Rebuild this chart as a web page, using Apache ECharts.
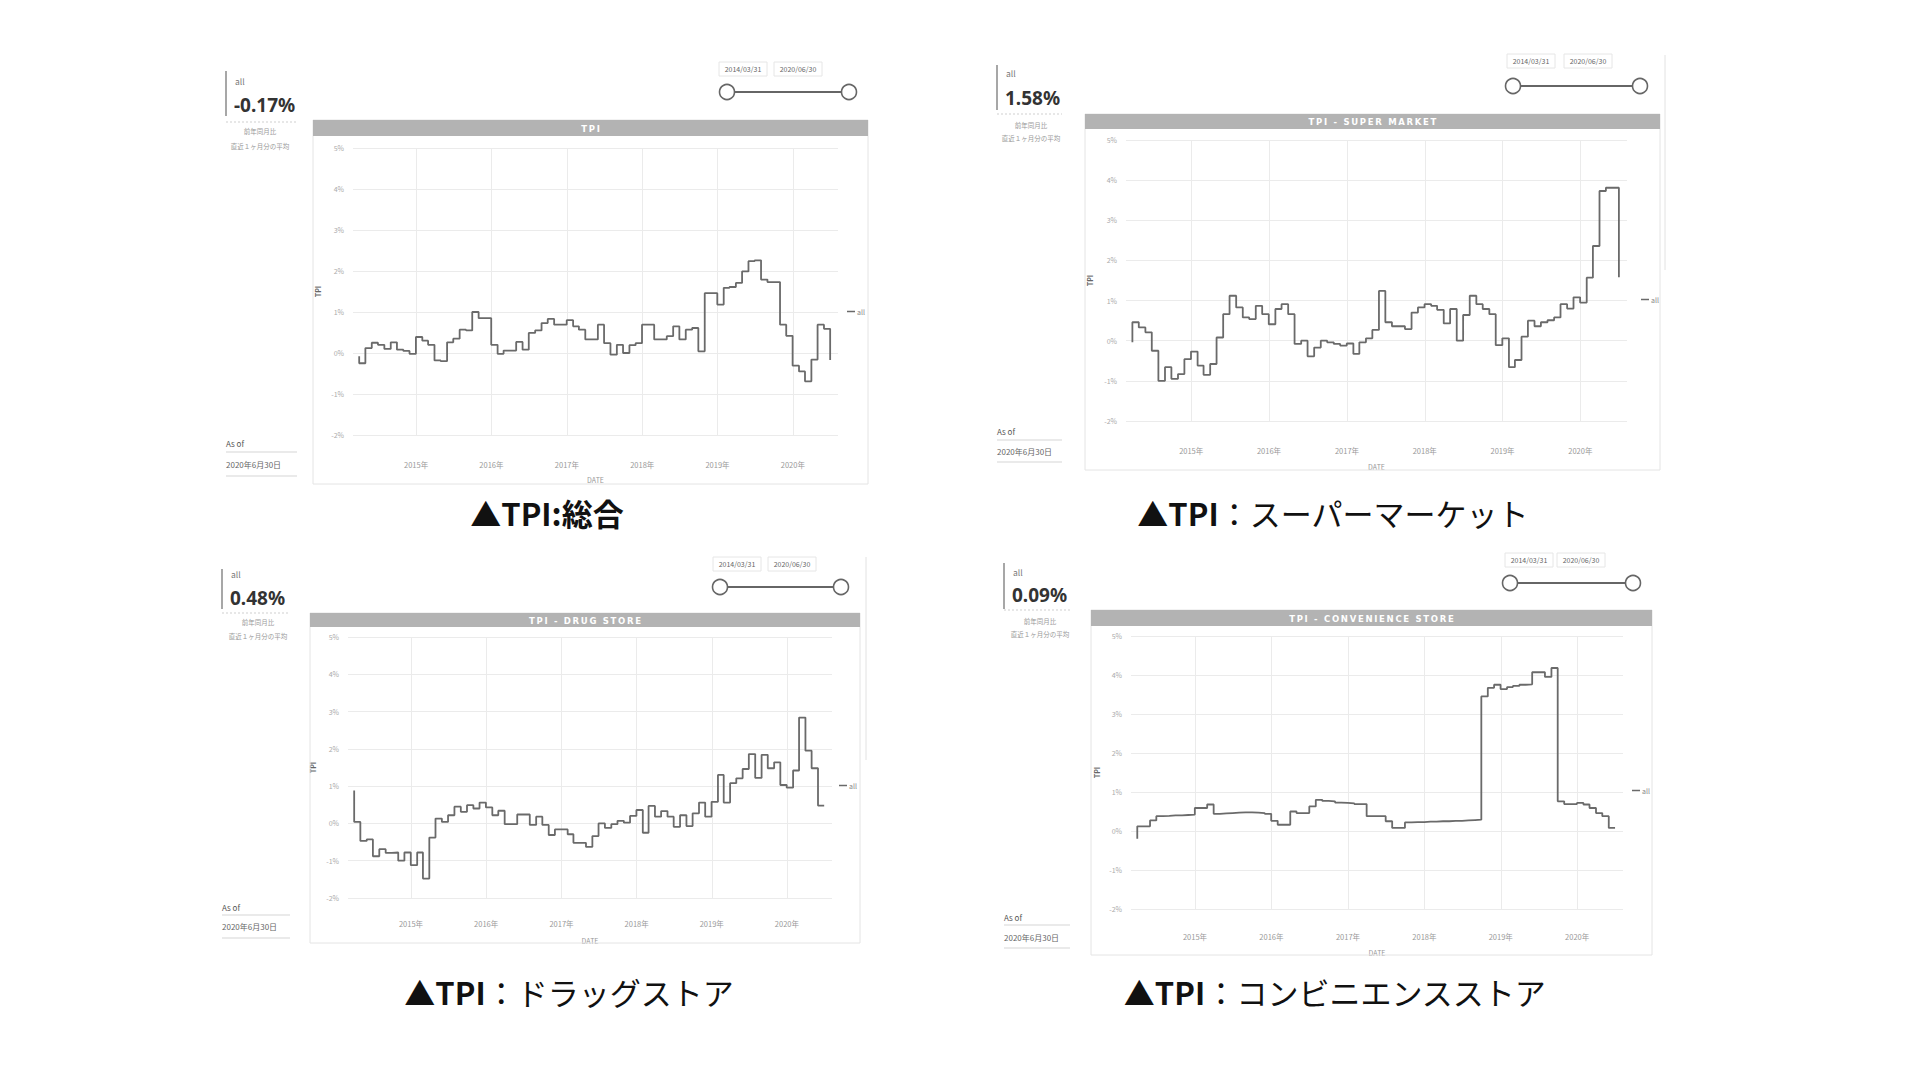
<!DOCTYPE html>
<html><head><meta charset="utf-8">
<script src="https://cdn.jsdelivr.net/npm/echarts@6/dist/echarts.min.js"></script>
<style>html,body{margin:0;padding:0;background:#fff}#c{width:1920px;height:1080px}</style>
</head><body><div id="c"></div>
<script>
// ---------- data ----------
const dates = [
 '2014-03-31','2014-04-30','2014-05-31','2014-06-30','2014-07-31','2014-08-31','2014-09-30','2014-10-31','2014-11-30','2014-12-31',
 '2015-01-31','2015-02-28','2015-03-31','2015-04-30','2015-05-31','2015-06-30','2015-07-31','2015-08-31','2015-09-30','2015-10-31','2015-11-30','2015-12-31',
 '2016-01-31','2016-02-29','2016-03-31','2016-04-30','2016-05-31','2016-06-30','2016-07-31','2016-08-31','2016-09-30','2016-10-31','2016-11-30','2016-12-31',
 '2017-01-31','2017-02-28','2017-03-31','2017-04-30','2017-05-31','2017-06-30','2017-07-31','2017-08-31','2017-09-30','2017-10-31','2017-11-30','2017-12-31',
 '2018-01-31','2018-02-28','2018-03-31','2018-04-30','2018-05-31','2018-06-30','2018-07-31','2018-08-31','2018-09-30','2018-10-31','2018-11-30','2018-12-31',
 '2019-01-31','2019-02-28','2019-03-31','2019-04-30','2019-05-31','2019-06-30','2019-07-31','2019-08-31','2019-09-30','2019-10-31','2019-11-30','2019-12-31',
 '2020-01-31','2020-02-29','2020-03-31','2020-04-30','2020-05-31','2020-06-30'
];
const totalStart = -0.08;
const totalValues = [
 -0.25,0.12,0.25,0.2,0.1,0.26,0.08,0.05,-0.02,0.39,
 0.3,0.2,-0.18,-0.2,0.26,0.35,0.57,0.55,1.0,0.85,
 0.85,0.2,-0.02,0.06,0.06,0.27,0.08,0.49,0.55,0.73,
 0.83,0.69,0.69,0.8,0.65,0.57,0.33,0.33,0.69,0.24,
 -0.04,0.2,0,0.19,0.24,0.69,0.69,0.33,0.33,0.41,
 0.65,0.33,0.57,0.61,0.04,1.46,1.46,1.18,1.59,1.61,
 1.71,1.99,2.24,2.26,1.79,1.73,1.73,0.69,0.42,-0.31,
 -0.45,-0.69,-0.16,0.69,0.59,-0.17
];
const superStart = -0.04;
const superValues = [
 0.46,0.33,0.21,-0.25,-1.0,-0.66,-0.95,-0.83,-0.46,-0.27,
 -0.62,-0.85,-0.58,0.08,0.66,1.12,0.83,0.58,0.54,0.87,
 0.66,0.41,0.79,0.91,0.66,-0.08,0,-0.39,-0.17,0,
 -0.04,-0.08,-0.12,-0.07,-0.33,-0.04,0.06,0.27,1.24,0.46,
 0.36,0.36,0.29,0.7,0.83,0.91,0.87,0.77,0.43,0.79,
 0,0.64,1.12,0.91,0.79,0.66,-0.11,0.06,-0.66,-0.48,
 0.1,0.5,0.36,0.46,0.51,0.58,0.91,0.8,1.08,0.95,
 1.57,2.36,3.73,3.81,3.81,1.58
];
const drugStart = 0.88;
const drugValues = [
 0.04,-0.47,-0.43,-0.88,-0.69,-0.79,-0.78,-1.0,-0.78,-1.12,
 -0.78,-1.48,-0.38,0.13,0.04,0.22,0.45,0.31,0.49,0.4,
 0.56,0.43,0.22,0.34,-0.02,-0.02,0.24,0.24,-0.04,0.18,
 -0.04,-0.31,-0.16,-0.16,-0.29,-0.52,-0.52,-0.63,-0.34,0,
 -0.12,-0.02,0.07,0.02,0.2,0.36,-0.25,0.47,0.18,0.33,
 0.18,-0.09,0.22,-0.07,0.27,0.56,0.18,0.58,1.3,0.56,
 1.08,1.21,1.46,1.86,1.22,1.84,1.48,1.64,1.03,0.96,
 1.42,2.84,1.95,1.48,0.48,0.48
];
const convStart = -0.2;
const convValues = [
 0.12,0.12,0.27,0.38,0.39,0.4,0.4,0.41,0.42,0.59,
 0.59,0.68,0.44,0.45,0.46,0.47,0.48,0.48,0.47,0.46,
 0.44,0.26,0.16,0.16,0.5,0.46,0.46,0.63,0.8,0.77,
 0.76,0.73,0.72,0.71,0.69,0.69,0.38,0.38,0.38,0.25,
 0.08,0.08,0.22,0.23,0.23,0.24,0.24,0.25,0.25,0.26,
 0.26,0.27,0.28,0.29,3.45,3.67,3.75,3.64,3.69,3.72,
 3.75,3.76,4.07,4.07,3.95,4.18,0.76,0.69,0.69,0.72,
 0.68,0.59,0.46,0.38,0.08,0.09
];
const yMin = -2, yMax = 5, yStep = 1;
const xMin = '2014-03-01', xMax = '2020-08-07';
const panelTitles = ['TPI', 'TPI - SUPER MARKET', 'TPI - DRUG STORE', 'TPI - CONVENIENCE STORE'];
const kpiValues = ['-0.17%', '1.58%', '0.48%', '0.09%'];
const kpiLabel = 'all';
const kpiNotes = ['前年同月比', '直近１ヶ月分の平均'];
const asOfLabel = 'As of';
const asOfDate = '2020年6月30日';
const sliderDates = ['2014/03/31', '2020/06/30'];
const captionHead = ['▲TPI:総合', '▲TPI', '▲TPI', '▲TPI'];
const captionTail = ['', '：スーパーマーケット', '：ドラッグストア', '：コンビニエンスストア'];
const seriesSets = [[totalStart,totalValues],[superStart,superValues],[drugStart,drugValues],[convStart,convValues]];

// ---------- layout ----------
const L = [
 {g:[353,838,148,435], xm:26, ng:41, yng:32, leg:[847,308],
  kb:[226,71,116], allY:81, valY:105, sepY:122, sepX1:297, small:[260,131,146],
  sb:[[743,69],[798,69]], sc:[[727,92],[849,92]], bar:[313,868,120,136], pb:484,
  asY:443, l1:452, dY:464, l2:476, cap:[547,512], rl:null},
 {g:[1126,1627,140,421], xm:26, ng:42, yng:33, leg:[1641,296],
  kb:[997,65,110], allY:73, valY:98, sepY:114, sepX1:1062, small:[1031,125,138],
  sb:[[1531,61],[1588,61]], sc:[[1513,86],[1640,86]], bar:[1085,1660,114,129], pb:470,
  asY:431, l1:440, dY:451, l2:462, cap:[1333,512], rl:[1665,55,270]},
 {g:[348,832,637,898], xm:22, ng:39, yng:32, leg:[839,782],
  kb:[222,569,609], allY:574, valY:598, sepY:613, sepX1:290, small:[258,622,636],
  sb:[[737,564],[792,564]], sc:[[720,587],[841,587]], bar:[310,860,613,627], pb:943,
  asY:907, l1:915, dY:926, l2:938, cap:[569,991], rl:[866,557,760]},
 {g:[1131,1623,636,909], xm:24, ng:40, yng:31, leg:[1632,787],
  kb:[1004,563,609], allY:572, valY:595, sepY:610, sepX1:1070, small:[1040,621,634],
  sb:[[1529,560],[1581,560]], sc:[[1510,583],[1633,583]], bar:[1091,1652,610,626], pb:955,
  asY:917, l1:925, dY:937, l2:948, cap:[1335,991], rl:null}
];
const FONT = '"Noto Sans CJK JP","Noto Sans",sans-serif';
const LINE_COLOR = '#6a6a6a';
const GRID_COLOR = '#ebebeb';

function txt(x,y,text,size,color,extra){
  return {type:'text', silent:true, z:10, style:Object.assign({x:x,y:y,text:text,fontSize:size,fontFamily:FONT,fill:color,align:'left',verticalAlign:'middle'}, extra||{})};
}
function ln(x1,y1,x2,y2,color,w,dash){
  return {type:'line', silent:true, z:10, shape:{x1:x1,y1:y1,x2:x2,y2:y2}, style:{stroke:color,lineWidth:w,lineDash:dash||null}};
}
function rc(x,y,w,h,style){ return {type:'rect', silent:true, z:1, shape:{x:x,y:y,width:w,height:h}, style:style}; }

const graphics = [];
const grids = [], xAxes = [], yAxes = [], series = [], legends = [];
L.forEach(function(p,i){
  const gl=p.g[0], gr=p.g[1], gt=p.g[2], gb=p.g[3];
  grids.push({left:gl, right:1920-gr, top:gt, bottom:1080-gb, containLabel:false});
  xAxes.push({type:'time', gridIndex:i, min:xMin, max:xMax,
    minInterval:365*86400000, maxInterval:366*86400000,
    name:'DATE', nameLocation:'middle', nameGap:p.ng, nameTextStyle:{fontSize:7,color:'#999',fontFamily:FONT},
    axisLine:{show:false},
    axisTick:{show:true, length:15, inside:false, lineStyle:{color:GRID_COLOR, width:1}},
    axisLabel:{fontSize:7.5,color:'#999',fontFamily:FONT,margin:p.xm,showMinLabel:false,showMaxLabel:false,
      formatter:function(v){ return new Date(v).getFullYear() + '年'; }},
    splitLine:{show:true, showMinLine:false, showMaxLine:false, lineStyle:{color:GRID_COLOR, width:1}}});
  yAxes.push({type:'value', gridIndex:i, min:yMin, max:yMax, interval:yStep,
    name:'TPI', nameLocation:'middle', nameRotate:90, nameGap:p.yng,
    nameTextStyle:{fontSize:7,color:'#666',fontWeight:'bold',fontFamily:FONT},
    axisLine:{show:false}, axisTick:{show:false},
    axisLabel:{fontSize:7,color:'#aaa',fontFamily:FONT,margin:9,formatter:'{value}%'},
    splitLine:{show:true, lineStyle:{color:GRID_COLOR, width:1}}});
  const s = seriesSets[i];
  const d = [[dates[0], s[0]]];
  s[1].forEach(function(v,k){ d.push([dates[k], v]); });
  series.push({name:'all', type:'line', xAxisIndex:i, yAxisIndex:i, step:'end', data:d,
    showSymbol:false, symbol:'none', lineStyle:{color:LINE_COLOR, width:1.8}, itemStyle:{color:LINE_COLOR}, animation:false});
  legends.push({data:['all'], left:p.leg[0], top:p.leg[1], icon:'rect', itemWidth:8, itemHeight:1.5, itemGap:2,
    textStyle:{fontSize:7,color:'#888',fontFamily:FONT,padding:[0,0,0,-3]}, selectedMode:false, padding:0});

  // panel
  graphics.push(rc(p.bar[0], p.bar[2], p.bar[1]-p.bar[0], p.pb-p.bar[2], {fill:'none', stroke:'#e4e4e4', lineWidth:1}));
  graphics.push(rc(p.bar[0], p.bar[2], p.bar[1]-p.bar[0], p.bar[3]-p.bar[2], {fill:'#b3b3b3'}));
  graphics.push(txt((p.bar[0]+p.bar[1])/2, (p.bar[2]+p.bar[3])/2+0.5, panelTitles[i].split('').join('\u2009'), 8.5, '#ffffff',
    {align:'center', fontWeight:'bold', fontFamily:'"DejaVu Sans",sans-serif'}));
  // KPI
  const kx = p.kb[0];
  graphics.push(ln(kx, p.kb[1], kx, p.kb[2], '#8a8a8a', 1.5));
  graphics.push(txt(kx+9, p.allY, kpiLabel, 8.5, '#777'));
  graphics.push(txt(kx+8, p.valY, kpiValues[i], 19, '#333', {fontWeight:'bold', fontFamily:'"Noto Sans","Open Sans",sans-serif'}));
  graphics.push(ln(kx, p.sepY, p.sepX1, p.sepY, '#cfcfcf', 1, [2,2]));
  graphics.push(txt(p.small[0], p.small[1], kpiNotes[0], 6.5, '#999', {align:'center'}));
  graphics.push(txt(p.small[0], p.small[2], kpiNotes[1], 6.5, '#999', {align:'center'}));
  // As of
  graphics.push(txt(kx, p.asY, asOfLabel, 8, '#555'));
  graphics.push(ln(kx, p.l1, p.sepX1, p.l1, '#d5d5d5', 1));
  graphics.push(txt(kx, p.dY, asOfDate, 8, '#666'));
  graphics.push(ln(kx, p.l2, p.sepX1, p.l2, '#d5d5d5', 1));
  // slider
  p.sb.forEach(function(b,j){
    graphics.push(rc(b[0]-24, b[1]-7, 48, 14, {fill:'#fff', stroke:'#e6e6e6', lineWidth:1}));
    graphics.push(txt(b[0], b[1], sliderDates[j], 7, '#666', {align:'center'}));
  });
  graphics.push(ln(p.sc[0][0], p.sc[0][1], p.sc[1][0], p.sc[1][1], '#666', 2));
  p.sc.forEach(function(c){
    graphics.push({type:'circle', silent:true, z:11, shape:{cx:c[0], cy:c[1], r:7.5}, style:{fill:'#fff', stroke:'#666', lineWidth:1.6}});
  });
  if (p.rl) graphics.push(ln(p.rl[0], p.rl[1], p.rl[0], p.rl[2], '#e2e2e2', 1));
  // caption
  graphics.push({type:'text', silent:true, z:10, style:{x:p.cap[0], y:p.cap[1], align:'center', verticalAlign:'middle',
    text:'{h|' + captionHead[i] + '}' + (captionTail[i] ? '{t|' + captionTail[i] + '}' : ''),
    rich:{h:{fontSize:31, fontWeight:'bold', fill:'#111', fontFamily:FONT},
          t:{fontSize:31, fontWeight:'normal', fill:'#111', fontFamily:FONT}}}});
});

const chart = echarts.init(document.getElementById('c'), null, {renderer:'svg', width:1920, height:1080});
chart.setOption({
  backgroundColor:'#ffffff', animation:false,
  grid:grids, xAxis:xAxes, yAxis:yAxes, series:series, legend:legends,
  graphic:{elements:graphics}
});
</script></body></html>
